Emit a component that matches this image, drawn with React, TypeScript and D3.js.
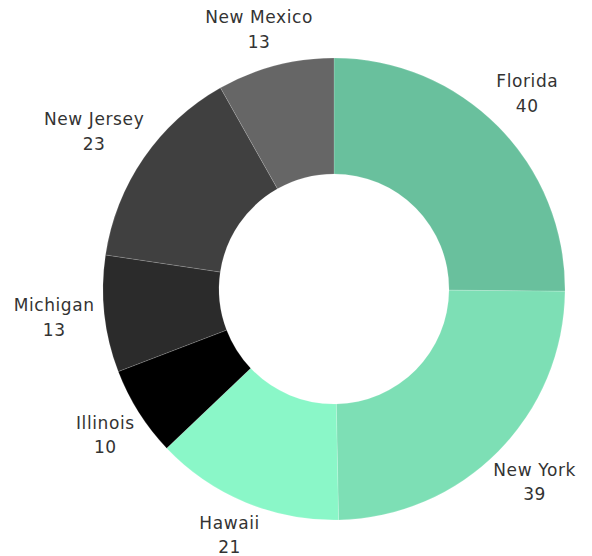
import React, { useEffect, useRef } from 'react';
import * as d3 from 'd3';

const states = ['Florida', 'New York', 'Hawaii', 'Illinois', 'Michigan', 'New Jersey', 'New Mexico'];
const counts = [40, 39, 21, 10, 13, 23, 13];
const colors = ['#69c09d', '#7ddfb5', '#8af7c8', '#000000', '#2b2b2b', '#404040', '#666666'];

const App = () => {
  const ref = useRef(null);

  useEffect(() => {
    if (!ref.current) return;
    const width = 592;
    const height = 556;
    const cx = 334;
    const cy = 289;
    const outer = 231;
    const inner = 115;
    const labelR = 241;
    const halfH = 25;

    const data = states.map((s, i) => ({ state: s, value: counts[i] }));

    const svg = d3.select(ref.current)
      .attr('width', width)
      .attr('height', height)
      .style('position', 'absolute')
      .style('left', 0)
      .style('top', 0);
    svg.selectAll('*').remove();

    const color = d3.scaleOrdinal<string, string>().domain(states).range(colors);
    const pie = d3.pie<any>().value(d => d.value).sort(null);
    const arc = d3.arc<any>().innerRadius(inner).outerRadius(outer);

    const g = svg.append('g').attr('transform', `translate(${cx},${cy})`);
    const arcs = pie(data);

    g.selectAll('path')
      .data(arcs)
      .enter()
      .append('path')
      .attr('d', arc)
      .attr('fill', d => color(d.data.state))
      .attr('stroke', '#ffffff')
      .attr('stroke-opacity', 0.5)
      .attr('stroke-width', 0.3);

    const labels = g.selectAll('.label')
      .data(arcs)
      .enter()
      .append('text')
      .attr('class', 'label')
      .attr('text-anchor', 'middle')
      .style('font-family', '"DejaVu Sans", sans-serif')
      .style('font-size', '17px')
      .style('letter-spacing', '0.6px')
      .style('fill', '#333333');

    labels.append('tspan').attr('x', 0).attr('dy', '-0.45em').text(d => d.data.state);
    labels.append('tspan').attr('x', 0).attr('dy', '1.45em').text(d => d.data.value);

    // push each label box outward so it sits just outside the ring
    labels.attr('transform', function (d) {
      const a = (d.startAngle + d.endAngle) / 2;
      const s = Math.sin(a);
      const c = -Math.cos(a);
      const w = (this as SVGTextElement).getBBox().width;
      const k = Math.max(-1, Math.min(1, c * 1.4));
      const x = labelR * s + (w / 2) * s;
      const y = labelR * c + halfH * k;
      return `translate(${x},${y})`;
    });
  }, []);

  return <svg ref={ref} />;
};

export default App;
